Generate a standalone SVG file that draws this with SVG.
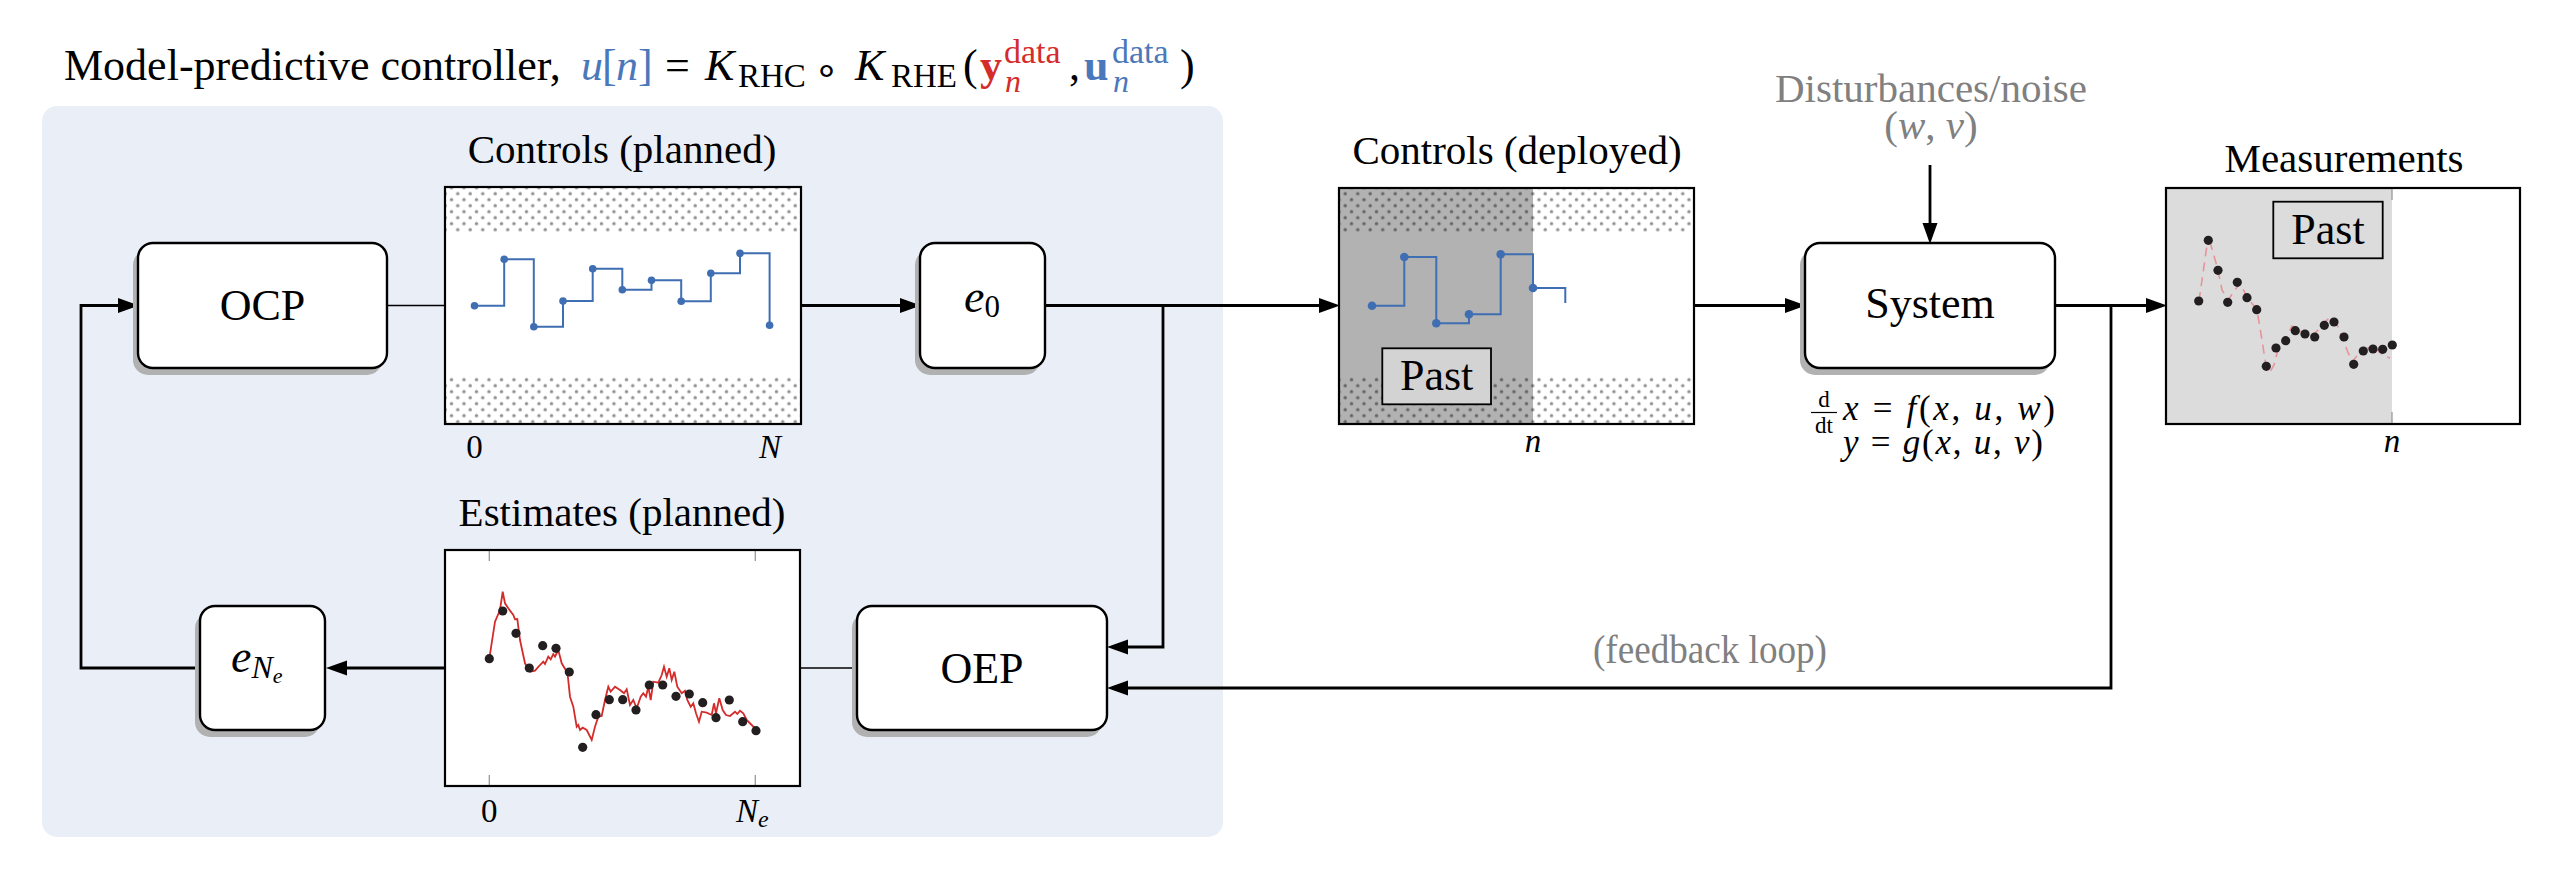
<svg xmlns="http://www.w3.org/2000/svg" width="2567" height="884" viewBox="0 0 2567 884">
<style>
.t{font-family:"Liberation Serif","Times New Roman",serif;fill:#000}
.it{font-style:italic}
.lbl{font-size:41px}
.node{font-size:44px}
.ax{font-size:33px}
.gray{fill:#808080}
.box{fill:#fff;stroke:#000;stroke-width:2.4}
.shadow{fill:#b1b1b1}
.frame{fill:none;stroke:#000;stroke-width:2.2}
.thick{fill:none;stroke:#000;stroke-width:2.8}
.thin{fill:none;stroke:#000;stroke-width:1.5}
.arr{marker-end:url(#ah)}
.step{fill:none;stroke:#3f6eb2;stroke-width:2}
.bd{fill:#3f6eb2}
.kd{fill:#231f20}
.tick{stroke:#9a9a9a;stroke-width:1.3}
.blue{fill:#4a78bb}
.red{fill:#d42b2b}
</style>
<defs>
<marker id="ah" markerUnits="userSpaceOnUse" markerWidth="22" markerHeight="16" refX="10" refY="8" orient="auto">
<path d="M0,0.5 L21,8 L0,15.5 z" fill="#000"/>
</marker>
<pattern id="dots" patternUnits="userSpaceOnUse" x="448" y="184.5" width="12.5" height="12">
<circle cx="3.5" cy="3.2" r="1.65" fill="#8e8e8e"/>
<circle cx="9.75" cy="9.2" r="1.65" fill="#8e8e8e"/>
</pattern>
</defs>

<!-- MPC panel -->
<rect id="mpc-panel" x="42" y="106" width="1181" height="731" rx="15" fill="#eaeff7"/>

<!-- Title -->
<g id="title" class="t">
<text x="64" y="80" font-size="44">Model-predictive controller,</text>
<text y="80" font-size="44"><tspan class="blue it" x="581">u</tspan><tspan class="blue" x="602">[</tspan><tspan class="blue it" x="616">n</tspan><tspan class="blue" x="638">]</tspan><tspan x="665">=</tspan><tspan class="it" x="705">K</tspan><tspan x="738" y="87" font-size="33">RHC</tspan><tspan x="826" y="84" font-size="40" text-anchor="middle">∘</tspan><tspan class="it" x="855" y="80">K</tspan><tspan x="891" y="87" font-size="33">RHE</tspan><tspan x="963" y="80">(</tspan><tspan class="red" x="980" font-weight="bold">y</tspan><tspan class="red" x="1004" y="63" font-size="34">data</tspan><tspan class="red it" x="1005" y="92" font-size="32">n</tspan><tspan x="1069" y="80">,</tspan><tspan class="blue" x="1084" font-weight="bold">u</tspan><tspan class="blue" x="1112" y="63" font-size="34">data</tspan><tspan class="blue it" x="1113" y="92" font-size="32">n</tspan><tspan x="1180" y="80">)</tspan></text>
</g>

<!-- Connectors -->
<g id="connectors">
<path class="thin" d="M387,305.5 L446,305.5"/>
<path class="thick arr" d="M800,305.5 L910,305.5"/>
<path class="thick arr" d="M1045,305.5 L1329,305.5"/>
<path class="thick arr" d="M1163,305.5 L1163,647 L1118,647"/>
<path class="thick arr" d="M1694,305.5 L1795,305.5"/>
<path class="thick arr" d="M1930,165 L1930,233"/>
<path class="thick arr" d="M2055,305.5 L2156,305.5"/>
<path class="thick arr" d="M2111,305.5 L2111,688 L1118,688"/>
<path class="thin" d="M858,668 L800,668"/>
<path class="thick arr" d="M446,668 L337,668"/>
<path class="thick arr" d="M200,668 L81,668 L81,305.5 L128,305.5"/>
</g>

<!-- OCP -->
<g id="ocp">
<rect class="shadow" x="133" y="250" width="249" height="125" rx="15"/>
<rect class="box" x="138" y="243" width="249" height="125" rx="15"/>
<text class="t node" x="262.5" y="320" text-anchor="middle">OCP</text>
</g>

<!-- Controls planned plot -->
<g id="controls-planned">
<text class="t lbl" x="622" y="163" text-anchor="middle">Controls (planned)</text>
<rect x="445" y="187" width="356" height="237" fill="#fff"/>
<rect x="445" y="187" width="356" height="46" fill="url(#dots)"/>
<rect x="445" y="376" width="356" height="48" fill="url(#dots)"/>
<path class="step" d="M474.5,305.7 H504.2 V259.3 H533.8 V326.7 H563 V301 H592.7 V268.7 H622.3 V289.7 H651.5 V280.3 H681.2 V301.3 H710.8 V273.3 H740 V253.3 H769.6 V325.3"/>
<g class="bd">
<circle cx="474.5" cy="305.7" r="3.8"/><circle cx="504.2" cy="259.3" r="3.8"/><circle cx="533.8" cy="326.7" r="3.8"/><circle cx="563" cy="301" r="3.8"/><circle cx="592.7" cy="268.7" r="3.8"/><circle cx="622.3" cy="289.7" r="3.8"/><circle cx="651.5" cy="280.3" r="3.8"/><circle cx="681.2" cy="301.3" r="3.8"/><circle cx="710.8" cy="273.3" r="3.8"/><circle cx="740" cy="253.3" r="3.8"/><circle cx="769.6" cy="325.3" r="3.8"/>
</g>
<rect class="frame" x="445" y="187" width="356" height="237"/>
<text class="t ax" x="474.5" y="458" text-anchor="middle">0</text>
<text class="t ax it" x="770" y="458" text-anchor="middle">N</text>
</g>

<!-- e0 -->
<g id="e0">
<rect class="shadow" x="915" y="250" width="125" height="125" rx="15"/>
<rect class="box" x="920" y="243" width="125" height="125" rx="15"/>
<text class="t" x="964" y="312" font-size="46"><tspan class="it">e</tspan><tspan font-size="31" dy="5">0</tspan></text>
</g>

<!-- Estimates plot -->
<g id="estimates-planned">
<text class="t lbl" x="622" y="526" text-anchor="middle">Estimates (planned)</text>
<rect x="445" y="550" width="355" height="236" fill="#fff"/>
<path class="tick" d="M489.3,550 V561 M755.3,550 V561 M489.3,775 V786 M755.3,775 V786"/>
<polyline fill="none" stroke="#d42b2b" stroke-width="1.8" points="489.3,658.7 495,621.7 500,610 502.7,591.7 505,603.3 508.3,608.3 513.3,615 515,619.3 517.3,619 520,640 525,663.3 530,671.7 535,670.7 540,665 543.3,661.7 545,664 548.3,656.7 550.7,659.3 553.3,654 555,656.7 558.3,650 561.7,663.3 565.7,670 567.7,675 570,696.7 573.3,706.7 576.7,726.7 578.3,725 580,730 582.7,727.7 586.7,730 591.7,740 595,726.7 598.3,716.7 601.7,716 605,700 608.3,686.7 610.7,691.7 615,686.7 620,690 624,693.3 626.7,689.3 630,705 633.3,700 636.7,708.3 640.7,696.7 643.3,693.3 646,696.7 648.3,686.7 650.7,700 653.3,681.7 658.3,682.7 661.7,675 664,666.7 666.7,676.7 669.3,668.3 671.7,680 674.3,671.7 677.3,686.7 681.7,693.3 685,690.7 687.3,700 690.7,706.7 693.3,703.3 696,713.3 699,721.7 701.7,711.7 706.7,712.7 711.7,715 714,703.3 716,713.3 719.3,698.3 722.7,710 726,715 730,716 735,711.7 737.3,714 740,710.7 743.3,713.3 746.7,720 751.7,725 756,729.3"/>
<g class="kd">
<circle cx="489.3" cy="658.7" r="4.6"/><circle cx="502.7" cy="611" r="4.6"/><circle cx="516" cy="633.3" r="4.6"/><circle cx="529.3" cy="668" r="4.6"/><circle cx="542.7" cy="645.7" r="4.6"/><circle cx="556" cy="648.3" r="4.6"/><circle cx="569.3" cy="672" r="4.6"/><circle cx="582.7" cy="747.3" r="4.6"/><circle cx="596" cy="714.7" r="4.6"/><circle cx="609.3" cy="699.7" r="4.6"/><circle cx="622.7" cy="699.7" r="4.6"/><circle cx="636" cy="710" r="4.6"/><circle cx="649.3" cy="685" r="4.6"/><circle cx="662.7" cy="685" r="4.6"/><circle cx="676" cy="696.3" r="4.6"/><circle cx="689.3" cy="694" r="4.6"/><circle cx="702.7" cy="702.7" r="4.6"/><circle cx="716" cy="717.7" r="4.6"/><circle cx="729.3" cy="700" r="4.6"/><circle cx="742.7" cy="721.7" r="4.6"/><circle cx="756" cy="730.7" r="4.6"/>
</g>
<rect class="frame" x="445" y="550" width="355" height="236"/>
<text class="t ax" x="489.3" y="822" text-anchor="middle">0</text>
<text class="t ax" x="736" y="822"><tspan class="it">N</tspan><tspan class="it" font-size="24" dy="5">e</tspan></text>
</g>

<!-- OEP -->
<g id="oep">
<rect class="shadow" x="852" y="613" width="250" height="124" rx="15"/>
<rect class="box" x="857" y="606" width="250" height="124" rx="15"/>
<text class="t node" x="982" y="683" text-anchor="middle">OEP</text>
</g>

<!-- e_Ne -->
<g id="eNe">
<rect class="shadow" x="195" y="613" width="125" height="124" rx="15"/>
<rect class="box" x="200" y="606" width="125" height="124" rx="15"/>
<text class="t it" x="231" y="672" font-size="46">e<tspan font-size="32" dy="6">N</tspan><tspan font-size="22" dy="5">e</tspan></text>
</g>

<!-- Controls deployed plot -->
<g id="controls-deployed">
<text class="t lbl" x="1517" y="164" text-anchor="middle">Controls (deployed)</text>
<rect x="1339" y="188" width="355" height="236" fill="#fff"/>
<rect x="1339" y="188" width="355" height="45" fill="url(#dots)"/>
<rect x="1339" y="376" width="355" height="48" fill="url(#dots)"/>
<rect x="1339" y="188" width="194" height="236" fill="#000" fill-opacity="0.3"/>
<path class="step" d="M1372,305.7 H1404.3 V257 H1436.3 V323.3 H1469 V314.3 H1500.7 V254.3 H1533 V288 H1565.3 V303"/>
<g class="bd">
<circle cx="1372" cy="305.7" r="4.3"/><circle cx="1404.3" cy="257" r="4.3"/><circle cx="1436.3" cy="323.3" r="4.3"/><circle cx="1469" cy="314.3" r="4.3"/><circle cx="1500.7" cy="254.3" r="4.3"/><circle cx="1533" cy="288" r="4.3"/>
</g>
<rect x="1382.3" y="348.3" width="108.7" height="56" fill="#d3d3d3" stroke="#000" stroke-width="1.8"/>
<text class="t" x="1436.6" y="390" font-size="44" text-anchor="middle">Past</text>
<rect class="frame" x="1339" y="188" width="355" height="236"/>
<text class="t ax it" x="1533" y="452" text-anchor="middle">n</text>
</g>

<!-- Disturbances -->
<g id="disturbances">
<text class="t lbl gray" x="1931" y="102" text-anchor="middle">Disturbances/noise</text>
<text class="t lbl gray" x="1931" y="139" text-anchor="middle">(<tspan class="it">w</tspan>, <tspan class="it">v</tspan>)</text>
</g>

<!-- System -->
<g id="system">
<rect class="shadow" x="1800" y="250" width="250" height="125" rx="15"/>
<rect class="box" x="1805" y="243" width="250" height="125" rx="15"/>
<text class="t node" x="1930" y="318" text-anchor="middle">System</text>
<g class="t">
<text x="1824" y="407" font-size="23" text-anchor="middle">d</text>
<line x1="1811" y1="412.5" x2="1837" y2="412.5" stroke="#000" stroke-width="1.2"/>
<text x="1824" y="433" font-size="23" text-anchor="middle">dt</text>
<text x="1843" y="420" font-size="35" textLength="212" lengthAdjust="spacing"><tspan class="it">x</tspan> = <tspan class="it">f</tspan>(<tspan class="it">x</tspan>, <tspan class="it">u</tspan>, <tspan class="it">w</tspan>)</text>
<text x="1843" y="454" font-size="35" textLength="200" lengthAdjust="spacing"><tspan class="it">y</tspan> = <tspan class="it">g</tspan>(<tspan class="it">x</tspan>, <tspan class="it">u</tspan>, <tspan class="it">v</tspan>)</text>
</g>
</g>

<!-- Measurements plot -->
<g id="measurements">
<text class="t lbl" x="2344" y="172" text-anchor="middle">Measurements</text>
<rect x="2166" y="188" width="354" height="236" fill="#fff"/>
<rect x="2166" y="188" width="226" height="236" fill="#dcdcdc"/>
<path class="tick" d="M2392,188 V200 M2392,412 V424"/>
<polyline fill="none" stroke="#e8939a" stroke-width="1.6" stroke-dasharray="9 6" points="2199,301 2207,245 2210,242 2218,270 2222,290 2228,300 2235,290 2240,283 2247,297 2257,310 2262,340 2266,366 2270,372 2274,365 2278,350 2286,338 2292,326 2300,330 2305,336 2310,338 2318,330 2324,322 2330,318 2336,322 2345,345 2352,362 2360,352 2368,348 2376,349 2384,356 2390,358"/>
<g class="kd">
<circle cx="2198.7" cy="301" r="4.6"/><circle cx="2208.3" cy="240.3" r="4.6"/><circle cx="2218" cy="270.3" r="4.6"/><circle cx="2227.7" cy="302.3" r="4.6"/><circle cx="2237.3" cy="282.3" r="4.6"/><circle cx="2247" cy="297.7" r="4.6"/><circle cx="2256.7" cy="309.7" r="4.6"/><circle cx="2266.3" cy="366.3" r="4.6"/><circle cx="2276" cy="348" r="4.6"/><circle cx="2285.7" cy="340.7" r="4.6"/><circle cx="2295.3" cy="330.7" r="4.6"/><circle cx="2305" cy="334" r="4.6"/><circle cx="2314.7" cy="337" r="4.6"/><circle cx="2324.3" cy="325.3" r="4.6"/><circle cx="2334" cy="322" r="4.6"/><circle cx="2344" cy="337" r="4.6"/><circle cx="2353.7" cy="364.3" r="4.6"/><circle cx="2363.3" cy="351" r="4.6"/><circle cx="2373" cy="349" r="4.6"/><circle cx="2382.7" cy="349.3" r="4.6"/><circle cx="2392.3" cy="345" r="4.6"/>
</g>
<rect x="2273.3" y="201.7" width="109.4" height="56.6" fill="none" stroke="#000" stroke-width="1.8"/>
<text class="t" x="2328" y="244" font-size="44" text-anchor="middle">Past</text>
<rect class="frame" x="2166" y="188" width="354" height="236"/>
<text class="t ax it" x="2392" y="452" text-anchor="middle">n</text>
</g>

<!-- Feedback label -->
<text id="feedback-label" class="t lbl gray" x="1710" y="663" text-anchor="middle" textLength="234" lengthAdjust="spacingAndGlyphs">(feedback loop)</text>
</svg>
